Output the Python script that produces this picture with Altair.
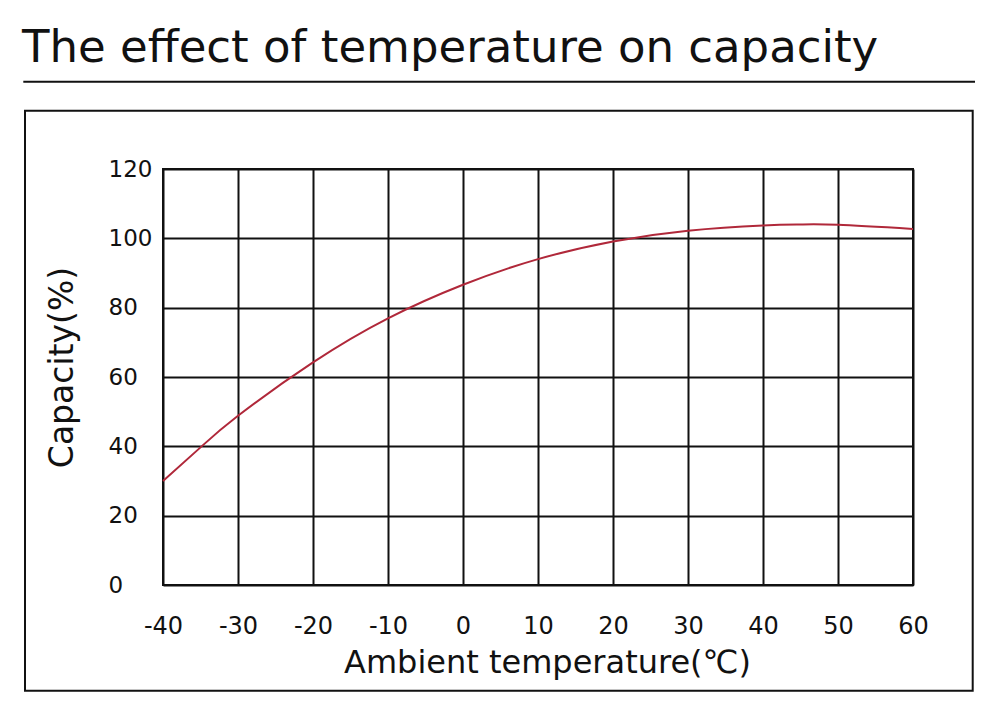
import altair as alt
import pandas as pd

# ---- data ----
temperature = [-40, -35, -30, -20, -10, 0, 10, 20, 30, 40, 45, 50, 60]
capacity = [30.0, 39.7, 48.8, 64.2, 76.9, 86.6, 94.0, 99.1, 102.2, 103.7, 104.0, 103.9, 102.7]
x_ticks = [-40, -30, -20, -10, 0, 10, 20, 30, 40, 50, 60]
y_ticks = [0, 20, 40, 60, 80, 100, 120]
chart_title = ["The effect of temperature on capacity"]
x_title = ["Ambient temperature(\u2103)"]
y_title = ["Capacity(%)"]

FONT = "DejaVu Sans"
INK = "#111111"

df = pd.DataFrame({"temp": temperature, "cap": capacity})

base = alt.Chart(df)

line = base.mark_line(color="#b0283a", strokeWidth=2, interpolate="natural").encode(
    x=alt.X("temp:Q",
            scale=alt.Scale(domain=[-40, 60], nice=False, zero=False),
            axis=alt.Axis(values=x_ticks, title=None, grid=True, ticks=False, tickSize=0,
                          domain=False, labelFont=FONT, labelFontSize=24, labelColor=INK,
                          labelExpr="'' + datum.value",
                          labelPadding=48, labelBaseline="alphabetic", labelFlush=False,
                          gridColor=INK, gridWidth=2, gridOpacity=1)),
    y=alt.Y("cap:Q",
            scale=alt.Scale(domain=[0, 120], nice=False),
            axis=alt.Axis(values=y_ticks, title=None, grid=True, ticks=False, tickSize=0,
                          domain=False, labelFont=FONT, labelFontSize=23, labelColor=INK,
                          labelAlign="left", labelPadding=55, labelBaseline="middle",
                          labelFlush=False,
                          gridColor=INK, gridWidth=2, gridOpacity=1)),
)

one = pd.DataFrame({"k": [0]})

title_text = alt.Chart(pd.DataFrame({"t": chart_title})).mark_text(
    font=FONT, fontSize=45, color=INK, align="left", baseline="alphabetic"
).encode(x=alt.value(-141), y=alt.value(-107.3), text="t:N")

title_rule = alt.Chart(one).mark_rule(color=INK, strokeWidth=2).encode(
    x=alt.value(-139.7), x2=alt.value(812), y=alt.value(-87.3)
)

frame = alt.Chart(one).mark_rect(fillOpacity=0, stroke=INK, strokeWidth=2).encode(
    x=alt.value(-138), x2=alt.value(809.7), y=alt.value(-58.3), y2=alt.value(521.7)
)

xt = alt.Chart(pd.DataFrame({"t": x_title})).mark_text(
    font=FONT, fontSize=32, color=INK, align="center", baseline="alphabetic"
).encode(x=alt.value(384.5), y=alt.value(504.3), text="t:N")

yt = alt.Chart(pd.DataFrame({"t": y_title})).mark_text(
    font=FONT, fontSize=33, color=INK, align="center", baseline="alphabetic", angle=270
).encode(x=alt.value(-89.7), y=alt.value(198.5), text="t:N")

chart = alt.layer(line, frame, title_rule, title_text, xt, yt).properties(
    width=750,
    height=416,
    autosize=alt.AutoSizeParams(type="none"),
    padding={"left": 155, "top": 161, "right": 79, "bottom": 118},
    background="white",
).configure_view(stroke=INK, strokeWidth=2)

chart.save("out.html", embed_options={"renderer": "svg", "actions": False})
